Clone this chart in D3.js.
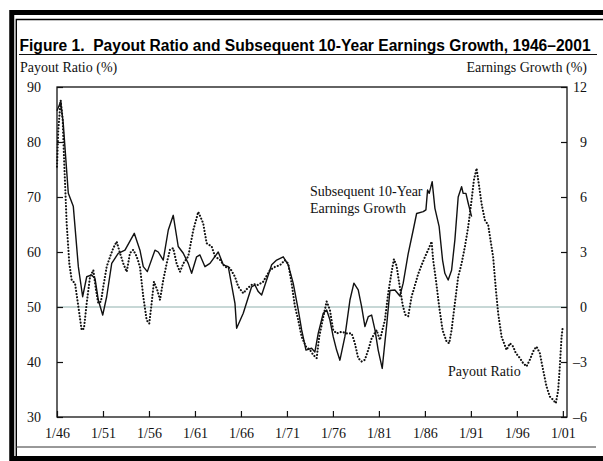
<!DOCTYPE html>
<html><head><meta charset="utf-8">
<script src="https://cdn.jsdelivr.net/npm/d3@7"></script>
<style>
body{margin:0;background:#fff;}
svg{display:block;}
.serif{font-family:"Liberation Serif","Times New Roman",serif;font-size:14px;fill:#111;}
</style></head>
<body>
<svg id="chart" width="603" height="461"></svg>
<script>
// ---- data ----
const xTickYears = [1946,1951,1956,1961,1966,1971,1976,1981,1986,1991,1996,2001];
const payoutTicks = [30,40,50,60,70,80,90];
const growthTicks = [-6,-3,0,3,6,9,12];

// Payout ratio (%) — dotted, left axis
const payoutYears = [1946.0,1946.14,1946.4,1946.62,1946.76,1947.05,1947.34,1947.6,1947.96,1948.32,1948.68,1948.93,1949.23,1949.59,1949.95,1950.24,1950.49,1950.78,1951.03,1951.4,1951.76,1952.12,1952.49,1952.85,1953.21,1953.58,1953.93,1954.29,1954.66,1955.02,1955.38,1955.75,1956.03,1956.29,1956.54,1956.9,1957.2,1957.55,1957.92,1958.28,1958.64,1959.01,1959.37,1959.73,1960.27,1960.82,1961.36,1961.9,1962.27,1962.82,1963.17,1963.72,1964.26,1964.8,1965.35,1965.71,1966.25,1966.76,1967.3,1967.85,1968.42,1969.15,1969.7,1970.24,1970.78,1971.14,1971.51,1971.87,1972.23,1972.6,1973.07,1973.5,1973.86,1974.23,1974.51,1974.95,1975.32,1975.67,1976.03,1976.4,1976.95,1977.49,1978.03,1978.39,1978.75,1979.12,1979.48,1979.84,1980.21,1980.75,1981.11,1981.65,1982.01,1982.38,1982.63,1982.92,1983.21,1983.58,1983.86,1984.18,1984.55,1984.91,1985.27,1985.64,1986.0,1986.36,1986.73,1986.9,1987.2,1987.55,1987.92,1988.36,1988.64,1988.9,1989.26,1989.62,1989.99,1990.35,1990.71,1991.08,1991.33,1991.62,1991.9,1992.16,1992.52,1992.88,1993.42,1993.72,1993.97,1994.34,1994.88,1995.24,1995.6,1995.89,1996.33,1996.68,1997.05,1997.41,1997.85,1998.14,1998.5,1998.86,1999.23,1999.59,1999.95,2000.24,2000.49,2000.67,2000.86,2000.97];
const payoutValues = [75.5,82.2,87.6,84,77.3,65.2,57.9,54.9,54.3,50.1,45.8,46.1,50.7,55.5,56.7,53.1,50.7,51,53.7,57.3,59.1,60.7,61.9,59.8,57.9,56.4,59.8,60.4,59.2,57.3,51.9,47.6,47.0,50.7,54.6,53.1,51.3,54.9,57.9,60.4,60.7,57.9,56.4,57.9,59.2,64,67.3,65.2,61.6,61,59.2,58.6,57.3,57.1,55.5,53.7,52.5,53.5,54.2,54.0,54.6,56.7,57.3,57.6,58.5,57.9,54.3,50.1,47.6,44.6,42.8,42.2,41.3,40.7,44.6,48.2,51,49.5,45.8,45.2,45.5,45.2,45.2,43.4,40.7,40.1,40.4,42.2,44.3,45.8,44.0,47.6,52.5,56.4,58.7,57.5,54.3,50.4,48.6,48.3,51.9,53.9,56.0,57.6,59.1,60.4,61.9,58.5,54.9,50.1,45.8,43.7,43.4,45.8,50.7,55.5,57.9,61,64.6,69.5,73.1,75.2,71.9,68.8,65.8,64.9,59.1,53.1,48.8,44.6,42.2,43.4,42.8,41.6,40.7,39.8,39.2,40.4,42.2,42.8,41.6,38.5,35.5,33.7,33.1,32.5,34.9,39.2,44.6,46.1];

// Subsequent 10-year earnings growth (%) — solid, right axis
const growthYears = [1946.0,1946.4,1946.68,1947.23,1947.77,1948.32,1948.79,1949.23,1949.77,1950.13,1950.49,1950.97,1951.4,1951.95,1952.66,1953.39,1954.4,1955.02,1955.38,1955.82,1956.65,1957.01,1957.55,1958.1,1958.64,1959.18,1959.73,1960.27,1960.64,1961.18,1961.54,1962.09,1962.63,1963.53,1964.08,1964.62,1965.35,1965.53,1966.25,1967.16,1967.52,1967.88,1968.25,1968.79,1969.34,1969.88,1970.6,1971.14,1971.68,1972.23,1972.6,1973.07,1973.68,1974.04,1974.4,1974.95,1975.32,1975.67,1976.03,1976.4,1976.76,1977.3,1977.85,1978.28,1978.75,1979.12,1979.48,1979.84,1980.21,1980.57,1980.92,1981.36,1981.84,1982.2,1982.74,1983.28,1983.64,1984.18,1984.73,1985.1,1985.82,1986.11,1986.29,1986.47,1986.79,1987.09,1987.55,1987.92,1988.17,1988.53,1988.9,1989.26,1989.62,1989.99,1990.16,1990.46,1990.71,1991.08];
const growthValues = [10.7,11.2,10.0,6.2,5.5,2.2,0.56,1.65,1.75,1.56,0.38,-0.44,0.56,2.38,2.93,3.1,4.02,3.1,2.2,1.93,3.1,3.0,2.56,4.2,5.0,3.3,2.93,2.38,1.84,2.74,2.84,2.2,2.38,3.0,2.3,2.2,0.2,-1.16,-0.34,1.1,1.2,0.84,0.65,1.47,2.3,2.56,2.74,2.3,1.3,-0.16,-1.25,-2.35,-2.25,-2.45,-1.44,-0.34,-0.16,-0.7,-1.62,-2.35,-2.9,-1.62,0.38,1.3,0.93,0.02,-1.07,-0.53,-0.44,-1.25,-2.35,-3.35,-1.0,0.9,0.93,0.6,1.3,2.9,4.2,5.1,5.2,5.3,6.38,6.2,6.84,5.38,4.38,2.56,1.84,1.47,2.0,3.66,6.0,6.56,6.2,6.2,5.66,4.93];

// ---- drawing ----
const svg = d3.select("#chart");
const L = 57, R = 567, T = 87, B = 417;

const x = d3.scaleLinear().domain([1946, 2001.45]).range([L, R]);
const yL = d3.scaleLinear().domain([30, 90]).range([B, T]);
const yR = d3.scaleLinear().domain([-6, 12]).range([B, T]);

// frame
svg.append("path").attr("d", `M606,12.5 H11.75 V458.5 H606`).attr("fill","none").attr("stroke","#000").attr("stroke-width",5);
svg.append("path").attr("d", `M606,19.5 H16.3 V456`).attr("fill","none").attr("stroke","#000").attr("stroke-width",1.4);
svg.append("line").attr("x1",16).attr("x2",596).attr("y1",447).attr("y2",447).attr("stroke","#333").attr("stroke-width",1);

// title
svg.append("text").attr("x",19.5).attr("y",50.5)
  .style("font-family","'Liberation Sans',Arial,sans-serif").style("font-weight","bold")
  .style("font-size","15.6px").style("white-space","pre").attr("fill","#000")
  .text("Figure 1.  Payout Ratio and Subsequent 10-Year Earnings Growth, 1946\u20132001");
svg.append("line").attr("x1",19).attr("x2",597).attr("y1",54.5).attr("y2",54.5).attr("stroke","#111").attr("stroke-width",1.2);

// axis titles
svg.append("text").attr("class","serif").attr("x",20).attr("y",72).text("Payout Ratio (%)");
svg.append("text").attr("class","serif").attr("x",587).attr("y",72).attr("text-anchor","end").text("Earnings Growth (%)");

// zero / 50 reference line
svg.append("line").attr("x1",L).attr("x2",R).attr("y1",yL(50)).attr("y2",yL(50))
  .attr("stroke","#8fb0ad").attr("stroke-width",1);

// axes
const fmtR = d => d < 0 ? "\u2013" + Math.abs(d) : String(d);
const gL = svg.append("g").attr("transform",`translate(${L},0)`)
  .call(d3.axisLeft(yL).tickValues(payoutTicks).tickSizeInner(-6).tickSizeOuter(0).tickPadding(16));
const gR = svg.append("g").attr("transform",`translate(${R},0)`)
  .call(d3.axisRight(yR).tickValues(growthTicks).tickFormat(fmtR).tickSizeInner(-6).tickSizeOuter(0).tickPadding(20));
const gX = svg.append("g").attr("transform",`translate(0,${B})`)
  .call(d3.axisBottom(x).tickValues(xTickYears).tickFormat(d => "1/" + String(d).slice(2)).tickSizeInner(-6).tickSizeOuter(0).tickPadding(13));
[gL,gR,gX].forEach(g => {
  g.select(".domain").remove();
  g.selectAll("line").attr("stroke","#111").attr("stroke-width",1.2);
  g.selectAll("text").attr("class","serif").attr("fill","#111");
});
gR.selectAll("text").attr("text-anchor","end").attr("x",20);
gX.selectAll("text").attr("dy","0.6em");

// plot box
svg.append("rect").attr("x",L).attr("y",T).attr("width",R-L).attr("height",B-T)
  .attr("fill","none").attr("stroke","#111").attr("stroke-width",1.3);

// series
const payout = payoutYears.map((d,i)=>({t:d, v:payoutValues[i]}));
const growth = growthYears.map((d,i)=>({t:d, v:growthValues[i]}));

svg.append("path").datum(growth)
  .attr("d", d3.line().x(d=>x(d.t)).y(d=>yR(d.v)))
  .attr("fill","none").attr("stroke","#111").attr("stroke-width",1.4).attr("stroke-linejoin","round");

svg.append("path").datum(payout)
  .attr("d", d3.line().x(d=>x(d.t)).y(d=>yL(d.v)))
  .attr("fill","none").attr("stroke","#111").attr("stroke-width",2.1)
  .attr("stroke-dasharray","0.1,3.1").attr("stroke-linecap","round");

// annotations
svg.append("text").attr("class","serif").attr("x",310).attr("y",196).text("Subsequent 10-Year");
svg.append("text").attr("class","serif").attr("x",310).attr("y",213).text("Earnings Growth");
svg.append("text").attr("class","serif").attr("x",448).attr("y",376).text("Payout Ratio");
</script>
</body></html>
